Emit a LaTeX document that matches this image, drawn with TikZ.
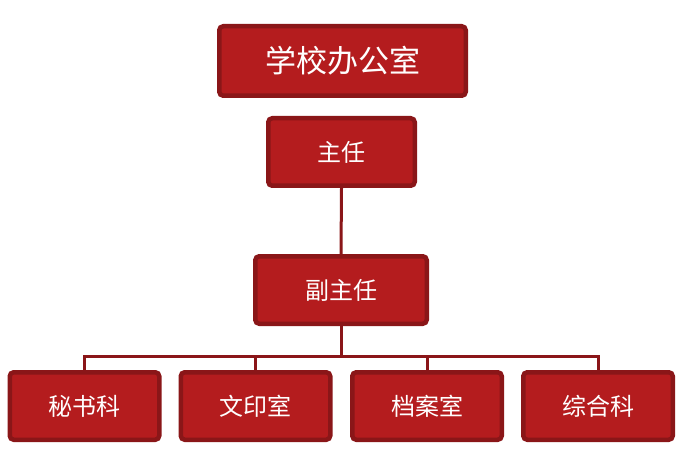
\documentclass[tikz,border=0pt]{standalone}
\usepackage{fontspec}
\setmainfont{Noto Sans CJK SC}
\definecolor{boxfill}{RGB}{180,28,30}
\definecolor{boxline}{RGB}{138,22,24}
\tikzset{
	box/.style={draw=boxline, fill=boxfill, line width=4.5pt, rounded corners=4pt,
		text=white, font=\fontsize{24}{28}\selectfont, minimum height=67.5pt, inner sep=0pt},
	link/.style={draw=boxline, line width=3pt}
}
\begin{document}
\begin{tikzpicture}[x=1pt,y=-1pt]
	\useasboundingbox (0,0) rectangle (690,462);
	% Các hộp phía trên
	\node[box, minimum width=246.5pt, minimum height=69.5pt, font=\fontsize{31}{36}\selectfont] (office) at (342.5,61) {学校办公室};
	\node[box, minimum width=146.5pt] (director) at (341.5,152) {主任};
	\node[box, minimum width=171.5pt] (vice) at (341,290) {副主任};
	% Các phòng ban
	\node[box, minimum width=149.5pt] (mishu) at (84.5,406) {秘书科};
	\node[box, minimum width=149.5pt] (wenyin) at (255.5,406) {文印室};
	\node[box, minimum width=149.5pt] (dangan) at (427,406) {档案室};
	\node[box, minimum width=149.5pt] (zonghe) at (598,406) {综合科};
	% Đường nối
	\coordinate (bus) at (341,356);
	\draw[link] (director.south) -- (vice.north);
	\draw[link] (vice.south) -- (bus);
	\foreach \n in {mishu,wenyin,dangan,zonghe}
	\draw[link] (bus) -| (\n.north);
\end{tikzpicture}
\end{document}
